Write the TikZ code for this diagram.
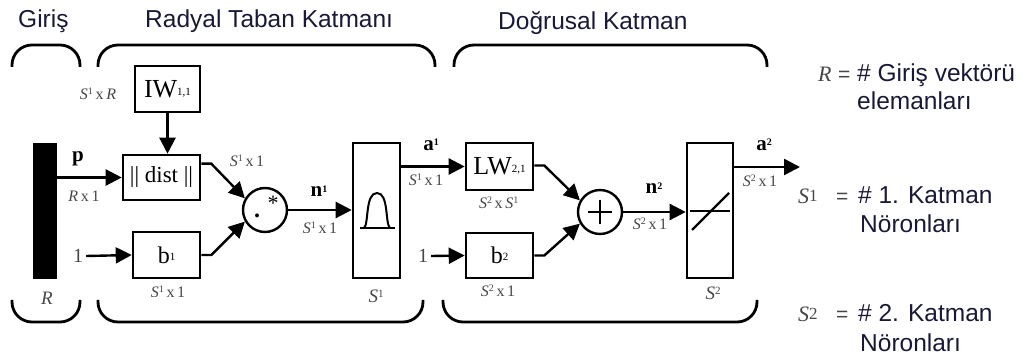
\documentclass[tikz,border=0pt]{standalone}
\usepackage{fontspec}
\setmainfont{Liberation Serif}
\newfontfamily\arialf{Liberation Sans}
\usetikzlibrary{arrows.meta,calc}
\definecolor{legc}{RGB}{25,25,55}
\definecolor{lblc}{RGB}{70,70,70}
\newcommand{\fs}[1]{\fontsize{#1}{#1}\selectfont}
\newcommand{\dimS}[2]{\textit{S}\raisebox{4.5pt}{\fs{10}#1}\,#2}
\begin{document}
\begin{tikzpicture}[x=1pt,y=-1pt,
  boxs/.style 2 args={draw,line width=2.6pt,inner sep=0pt,minimum width=#1,minimum height=#2},
  circs/.style={draw,circle,line width=2.4pt,inner sep=0pt,minimum size=44pt},
  arr/.style={line width=2.4pt,-{Triangle[length=16pt,width=16pt]}},
  brc/.style={line width=2.8pt,rounded corners=20pt},
  hd/.style={font=\arialf\fs{24.5},text=legc,inner sep=0pt,anchor=base west},
  leg/.style={font=\arialf\fs{24.5},text=legc,inner sep=0pt,anchor=base west},
  eqs/.style={font=\arialf\fs{21},text=lblc,inner sep=0pt,anchor=base west},
  sml/.style={font=\fs{16},text=lblc,inner sep=0pt},
  sig/.style={font=\bfseries\fs{21},inner sep=0pt},
  blab/.style={font=\fs{26},inner sep=0pt}
]
\useasboundingbox (0,0) rectangle (1029,358);

% headings
\node[hd] (tGiris) at (18,28) {Giriş};
\node[hd] (tRad) at (145,28) {Radyal Taban Katmanı};
\node[hd] (tLin) at (498,30) {Doğrusal Katman};

% braces
\draw[brc] (12,67) -- (12,45) -- (80,45) -- (80,67);
\draw[brc] (98,67) -- (98,45) -- (435,45) -- (435,67);
\draw[brc] (454,67) -- (454,45) -- (767,45) -- (767,67);
\draw[brc] (12,300) -- (12,322) -- (80,322) -- (80,300);
\draw[brc] (98,300) -- (98,322) -- (423,322) -- (423,300);
\draw[brc] (443,300) -- (443,322) -- (757,322) -- (757,300);

% input bar
\node[fill=black,inner sep=0pt,minimum width=24pt,minimum height=136pt] (bar) at (45,211) {};
\node[font=\itshape\fs{19},text=lblc,inner sep=0pt] (lR) at (47,298) {R};

% layer 1
\node[boxs={65pt}{46pt},blab] (IW) at (167.5,89) {IW\raisebox{2pt}{\fs{11}1,1}};
\node[boxs={77pt}{45pt},font=\fs{23},inner sep=0pt] (dist) at (161.5,177.5) {|| dist ||};
\node[boxs={67pt}{46pt},font=\fs{24}] (b1) at (166.5,255) {b\raisebox{3pt}{\fs{11}1}};
\node[circs] (c1) at (265,210) {};
\node[inner sep=0pt,font=\bfseries\fs{24}] (c1dot) at (257,216) {.};
\node[inner sep=0pt,font=\fs{22}] (c1star) at (273,203) {*};
\node[boxs={47pt}{135pt}] (S1) at (376.5,210.5) {};
\draw[line width=2pt] (360,228) -- (395,228);
\draw[line width=2pt] (364,228) .. controls (369,224) and (365,193) .. (377,193) .. controls (389,193) and (385,224) .. (390,228);

\node[font=\fs{20},text=lblc,inner sep=0pt] (one1) at (78,256) {1};
\node[sig] (lp) at (78,159) {p};
\node[sml] (lRx1) at (84,196) {\textit{R}\,x\,1};
\node[sml] (lS1xR) at (98,94) {\dimS{1}{x\,\textit{R}}};
\node[sml] (lS1x1a) at (247,161) {\dimS{1}{x\,1}};
\node[sig] (ln1) at (319,191) {n\raisebox{4.5pt}{\fs{10}1}};
\node[sml] (lS1x1b) at (320,228) {\dimS{1}{x\,1}};
\node[sml] (lS1x1c) at (168,292) {\dimS{1}{x\,1}};
\node[font=\itshape\fs{19},text=lblc,inner sep=0pt] (lS1) at (376,296) {S\raisebox{5pt}{\upshape\fs{11}1}};

\draw[arr] (bar.east |- dist.west) -- (dist.west);
\draw[arr] (IW.south) -- (IW.south |- dist.north);
\draw[arr] ($(dist.north east)+(0,10)$) -- ++(10,0) -- (c1.150);
\draw[arr] (one1.east) ++(3,0) -- (b1.west);
\draw[arr] (b1.east) -- ++(10,0) -- (c1.210);
\draw[arr] (c1.east) -- (c1.east -| S1.west);

% layer 2
\node[boxs={67pt}{47pt},blab] (LW) at (499.5,166.5) {LW\raisebox{2pt}{\fs{11}2,1}};
\node[boxs={67pt}{45pt},font=\fs{24}] (b2) at (499.5,255.5) {b\raisebox{3pt}{\fs{11}2}};
\node[circs] (c2) at (600,212) {};
\draw[line width=2pt] (c2.center) ++(-12,0) -- ++(24,0);
\draw[line width=2pt] (c2.center) ++(0,-12) -- ++(0,24);
\node[boxs={46pt}{135pt}] (S2) at (710,210.5) {};
\draw[line width=2pt] (690,211) -- (730,211);
\draw[line width=2.4pt] (692,230) -- (729,193);
\coordinate (out) at (800,167);

\node[font=\fs{20},text=lblc,inner sep=0pt] (one2) at (423,256) {1};
\node[sig] (la1) at (431,145) {a\raisebox{4.5pt}{\fs{10}1}};
\node[sml] (lS1x1d) at (426,180) {\dimS{1}{x\,1}};
\node[sml] (lS2xS1) at (500,203) {\dimS{2}{x\,\dimS{1}{}}};
\node[sml] (lS2x1a) at (498,291) {\dimS{2}{x\,1}};
\node[sig] (ln2) at (654,188) {n\raisebox{4.5pt}{\fs{10}2}};
\node[sml] (lS2x1b) at (650,224) {\dimS{2}{x\,1}};
\node[font=\itshape\fs{19},text=lblc,inner sep=0pt] (lS2) at (713,293) {S\raisebox{5pt}{\upshape\fs{11}2}};
\node[sig] (la2) at (764,145) {a\raisebox{4.5pt}{\fs{10}2}};
\node[sml] (lS2x1c) at (760,181) {\dimS{2}{x\,1}};

\draw[arr] (S1.east |- LW.west) -- (LW.west);
\draw[arr] (one2.east) ++(3,0) -- (b2.west);
\draw[arr] ($(LW.east)+(0,-1)$) -- ++(10,0) -- (c2.150);
\draw[arr] (b2.east) -- ++(10,0) -- (c2.210);
\draw[arr] (c2.east) -- (c2.east -| S2.west);
\draw[arr] (S2.east |- out) -- (out);

% legend
\node[font=\itshape\fs{22},text=lblc,inner sep=0pt,anchor=base west] (gR) at (818,82) {R};
\node[eqs] (gEq1) at (838,82) {=};
\node[leg] (gT1) at (857,82) {\# Giriş vektörü};
\node[leg] (gT1b) at (857,110) {elemanları};
\node[font=\itshape\fs{22},text=lblc,inner sep=0pt,anchor=base west] (gS1) at (798,204) {S\raisebox{2pt}{\upshape\fs{17}1}};
\node[eqs] (gEq2) at (836,204) {=};
\node[leg] (gT2) at (858,204) {\# 1. Katman};
\node[leg] (gT2b) at (860,233) {Nöronları};
\node[font=\itshape\fs{22},text=lblc,inner sep=0pt,anchor=base west] (gS2) at (798,322) {S\raisebox{2pt}{\upshape\fs{17}2}};
\node[eqs] (gEq3) at (836,322) {=};
\node[leg] (gT3) at (858,322) {\# 2. Katman};
\node[leg] (gT3b) at (860,352) {Nöronları};
\end{tikzpicture}
\end{document}
